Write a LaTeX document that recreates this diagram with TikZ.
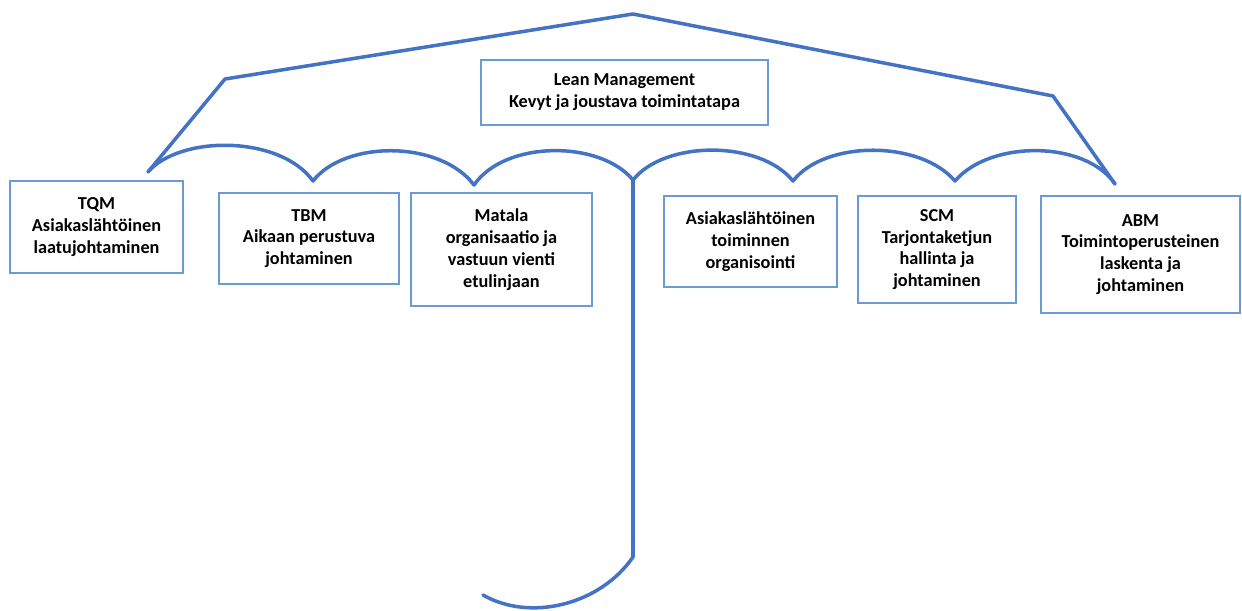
\documentclass[tikz,border=0pt]{standalone}
\usepackage{fontspec}
\setmainfont{Carlito}
\definecolor{umbrella}{HTML}{4472C4}
\definecolor{boxline}{HTML}{6A9BD8}
\begin{document}
\begin{tikzpicture}[
    x=0.02cm, y=-0.02cm,
    box/.style={draw=boxline, line width=0.7pt, inner sep=0pt, align=center, font=\bfseries\fontsize{10.4}{12.4}\selectfont},
    frame/.style={draw=umbrella, line width=2pt, line join=round, line cap=round}
]
\useasboundingbox (0,0) rectangle (1242,611);

% Lean box
\node[box, minimum width=5.74cm, minimum height=1.3cm] (lean) at (624.5,92.5) {Lean Management\\Kevyt ja joustava toimintatapa};

% Sub-areas
\node[box, minimum width=3.46cm, minimum height=1.84cm] (tqm) at (96.5,227) {TQM\\Asiakaslähtöinen\\laatujohtaminen};
\node[box, minimum width=3.6cm, minimum height=1.82cm] (tbm) at (309,238.5) {TBM\\Aikaan perustuva\\johtaminen};
\node[box, minimum width=3.62cm, minimum height=2.26cm] (matala) at (501.5,249.5) {Matala\\organisaatio ja\\vastuun vienti\\etulinjaan};
\node[box, minimum width=3.46cm, minimum height=1.82cm] (asiakas) at (750.5,241.5) {Asiakaslähtöinen\\toiminnen\\organisointi};
\node[box, minimum width=3.16cm, minimum height=2.14cm] (scm) at (937,249.5) {SCM\\Tarjontaketjun\\hallinta ja\\johtaminen};
\node[box, minimum width=3.98cm, minimum height=2.34cm] (abm) at (1140.5,254.5) {ABM\\Toimintoperusteinen\\laskenta ja\\johtaminen};

% Umbrella outline
\coordinate (top) at (633,14);
\coordinate (lshoulder) at (225,79);
\coordinate (ltip) at (148,172);
\coordinate (rshoulder) at (1053,96);
\coordinate (rtip) at (1115,184);
\coordinate (c1) at (313,181);
\coordinate (c2) at (474,185);
\coordinate (c3) at (633,180);
\coordinate (c4) at (793,181);
\coordinate (c5) at (955,181);
\coordinate (hbottom) at (633,557);
\coordinate (hend) at (483,595);

\draw[frame] (ltip) -- (lshoulder) -- (top) -- (rshoulder) -- (rtip);

% Scallops
\draw[frame] (ltip) .. controls (180,135) and (280,135) .. (c1)
    .. controls (345,140) and (440,140) .. (c2)
    .. controls (505,140) and (600,140) .. (c3)
    .. controls (665,140) and (760,140) .. (c4)
    .. controls (825,140) and (920,140) .. (c5)
    .. controls (990,140) and (1085,140) .. (rtip);

% Handle
\draw[frame] (c3) -- (hbottom) .. controls (600,605) and (530,622) .. (hend);

\end{tikzpicture}
\end{document}
